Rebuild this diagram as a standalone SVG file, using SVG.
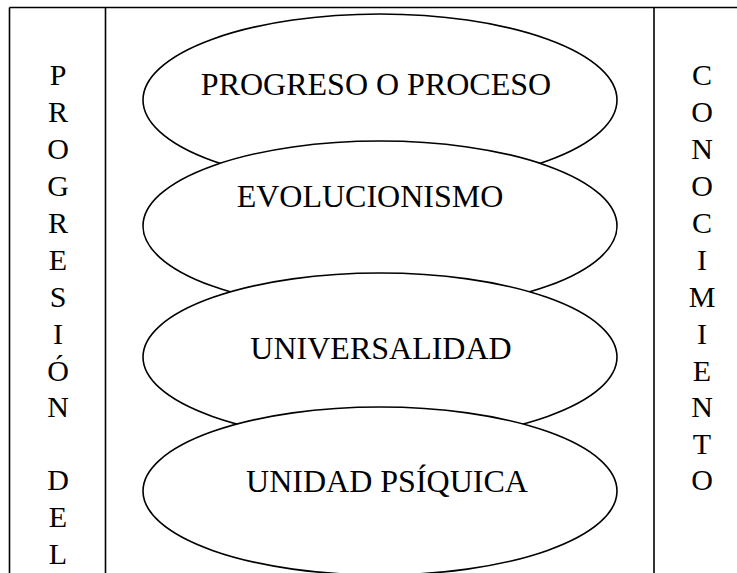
<svg xmlns="http://www.w3.org/2000/svg" width="737" height="573" viewBox="0 0 737 573">
<style>
.ln{stroke:#000;stroke-width:1.6;fill:none}
.el{stroke:#000;stroke-width:1.6;fill:#fff}
text{font-family:"Liberation Serif","Times New Roman",serif;fill:#000}
.big{font-size:32px;text-anchor:middle}
.col{font-size:30px;text-anchor:middle}
</style>
<g id="frame">
<line class="ln" x1="9.5" y1="7.5" x2="737" y2="7.5"/>
<line class="ln" x1="9.5" y1="7.5" x2="9.5" y2="573"/>
<line class="ln" x1="105.5" y1="7.5" x2="105.5" y2="573"/>
<line class="ln" x1="654" y1="7.5" x2="654" y2="573"/>
</g>
<g id="left-label">
<text class="col" x="58" y="85">P</text>
<text class="col" x="58" y="122">R</text>
<text class="col" x="58" y="159">O</text>
<text class="col" x="58" y="196">G</text>
<text class="col" x="58" y="233">R</text>
<text class="col" x="58" y="270">E</text>
<text class="col" x="58" y="307">S</text>
<text class="col" x="58" y="344">I</text>
<text class="col" x="58" y="381">Ó</text>
<text class="col" x="58" y="417">N</text>
<text class="col" x="58" y="490">D</text>
<text class="col" x="58" y="527">E</text>
<text class="col" x="58" y="564">L</text>
</g>
<g id="right-label">
<text class="col" x="702" y="85">C</text>
<text class="col" x="702" y="122">O</text>
<text class="col" x="702" y="159">N</text>
<text class="col" x="702" y="196">O</text>
<text class="col" x="702" y="233">C</text>
<text class="col" x="702" y="270">I</text>
<text class="col" x="702" y="307">M</text>
<text class="col" x="702" y="344">I</text>
<text class="col" x="702" y="381">E</text>
<text class="col" x="702" y="417">N</text>
<text class="col" x="702" y="454">T</text>
<text class="col" x="702" y="490">O</text>
</g>
<g id="n1">
<ellipse class="el" cx="380" cy="100" rx="237" ry="86"/>
<text class="big" x="376" y="95">PROGRESO O PROCESO</text>
</g>
<g id="n2">
<ellipse class="el" cx="380" cy="226" rx="237" ry="85"/>
<text class="big" x="370" y="207">EVOLUCIONISMO</text>
</g>
<g id="n3">
<ellipse class="el" cx="380" cy="357" rx="237" ry="84"/>
<text class="big" x="381" y="359">UNIVERSALIDAD</text>
</g>
<g id="n4">
<ellipse class="el" cx="380" cy="491" rx="237" ry="84"/>
<text class="big" x="387" y="492">UNIDAD PSÍQUICA</text>
</g>
</svg>
